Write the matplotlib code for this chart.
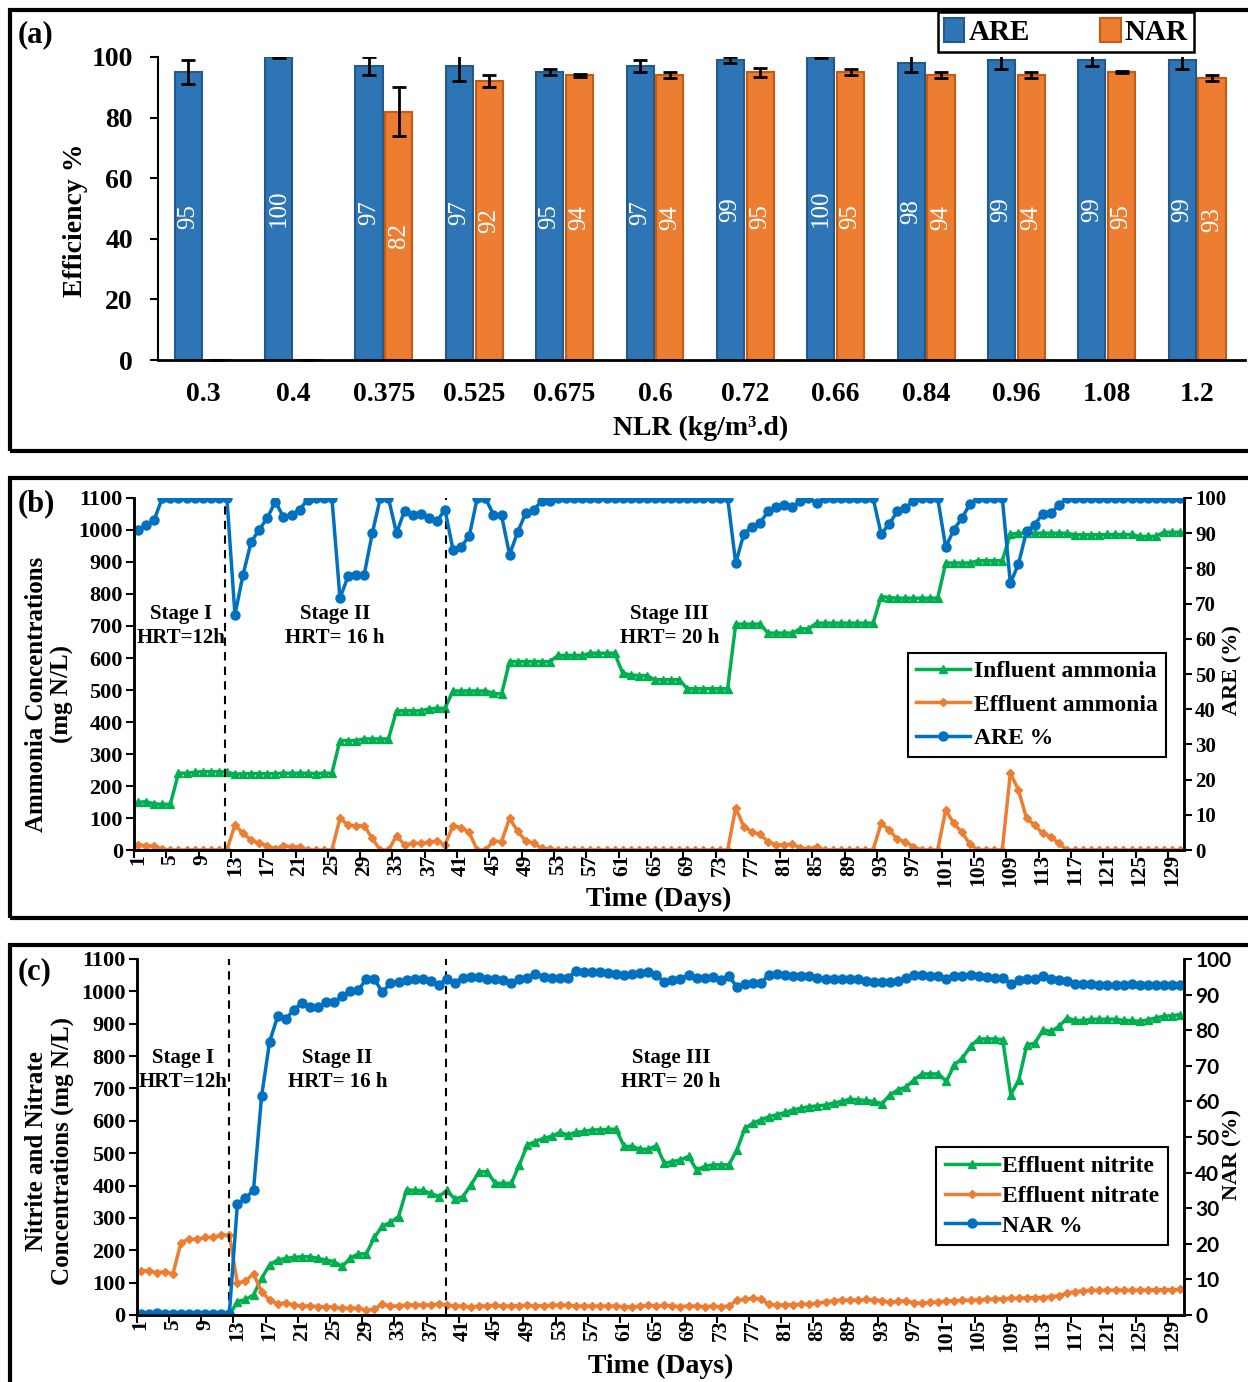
import matplotlib.pyplot as plt
import numpy as np
from matplotlib.lines import Line2D
from matplotlib.patches import Patch, Rectangle

plt.rcParams['font.family'] = ['Liberation Serif', 'DejaVu Serif']
plt.rcParams['font.weight'] = 'bold'
plt.rcParams['axes.labelweight'] = 'bold'

# ---------------- data: panel (a) ----------------
nlr_labels = ['0.3', '0.4', '0.375', '0.525', '0.675', '0.6', '0.72', '0.66', '0.84', '0.96', '1.08', '1.2']
are_eff = [95, 100, 97, 97, 95, 97, 99, 100, 98, 99, 99, 99]
are_err = [4, 0.3, 3, 5, 1, 2, 1, 0.3, 3, 3, 2, 3]
nar_eff = [0, 0, 82, 92, 94, 94, 95, 95, 94, 94, 95, 93]
nar_err = [0, 0, 8, 2, 0.5, 1, 1.5, 1, 1, 1, 0.3, 1]

# ---------------- data: panel (b) ----------------
influent_nh4 = [
    149, 151, 144, 143, 143, 240, 240, 243, 245, 245,
    245, 243, 237, 238, 239, 239, 238, 239, 240, 240,
    240, 240, 239, 240, 240, 342, 342, 342, 347, 347,
    347, 347, 435, 435, 435, 435, 441, 443, 443, 497,
    497, 497, 497, 497, 490, 487, 589, 589, 589, 589,
    589, 589, 608, 608, 608, 608, 615, 615, 615, 615,
    553, 547, 545, 545, 532, 532, 532, 532, 504, 504,
    504, 504, 504, 504, 706, 706, 706, 706, 678, 678,
    678, 678, 691, 691, 709, 709, 709, 709, 709, 709,
    709, 709, 792, 789, 787, 787, 787, 787, 787, 787,
    897, 897, 897, 897, 904, 904, 904, 904, 987, 990,
    990, 990, 990, 990, 990, 990, 985, 985, 985, 985,
    986, 986, 986, 986, 980, 980, 980, 993, 993, 993,
]
effluent_nh4 = [
    16, 14, 12, 3, 0, 0, 0, 0, 0, 0,
    0, 0, 78, 52, 31, 21, 14, 3, 14, 10,
    10, 0, 0, 0, 0, 99, 78, 76, 76, 36,
    0, 0, 44, 16, 21, 21, 24, 28, 16, 76,
    70, 55, 0, 0, 28, 26, 99, 59, 28, 21,
    5, 3, 0, 0, 0, 0, 0, 0, 0, 0,
    0, 0, 0, 0, 0, 0, 0, 0, 0, 0,
    0, 0, 0, 0, 132, 73, 57, 49, 26, 16,
    16, 18, 7, 3, 10, 0, 0, 0, 0, 0,
    0, 0, 83, 63, 33, 26, 10, 0, 0, 0,
    125, 83, 55, 18, 0, 0, 0, 0, 240, 188,
    99, 78, 52, 42, 21, 0, 0, 0, 0, 0,
    0, 0, 0, 0, 0, 0, 0, 0, 0, 0,
]
are_pct = [
    91.0, 92.4, 93.8, 100, 100, 100, 100, 100, 100, 100,
    100, 100, 66.8, 78.2, 87.5, 91.0, 94.3, 99.0, 94.6, 95.1,
    96.7, 99.5, 100, 100, 100, 71.6, 77.7, 78.2, 78.2, 90.0,
    100, 100, 90.0, 96.4, 95.1, 95.4, 94.4, 93.4, 96.7, 85.3,
    86.2, 89.1, 100, 100, 95.3, 95.1, 83.9, 90.3, 95.7, 96.7,
    99.2, 99.2, 100, 100, 100, 100, 100, 100, 100, 100,
    100, 100, 100, 100, 100, 100, 100, 100, 100, 100,
    100, 100, 100, 100, 81.5, 89.8, 91.9, 92.9, 96.2, 97.4,
    97.9, 97.4, 99.2, 100, 98.6, 100, 100, 100, 100, 100,
    100, 100, 89.8, 92.6, 96.2, 97.2, 99.2, 100, 100, 100,
    86.0, 91.0, 94.3, 98.3, 100, 100, 100, 100, 75.8, 81.2,
    90.5, 92.4, 95.5, 95.7, 97.9, 100, 100, 100, 100, 100,
    100, 100, 100, 100, 100, 100, 100, 100, 100, 100,
]

# ---------------- data: panel (c) ----------------
nitrite = [
    0, 0, 0, 0, 0, 0, 0, 0, 0, 0,
    0, 0, 41, 48, 62, 113, 155, 170, 175, 178,
    180, 180, 175, 170, 165, 150, 175, 189, 189, 240,
    275, 286, 304, 387, 385, 385, 376, 366, 385, 358,
    366, 402, 443, 443, 407, 407, 407, 464, 526, 536,
    546, 552, 564, 557, 564, 567, 572, 572, 574, 574,
    521, 521, 512, 512, 523, 469, 474, 479, 490, 448,
    459, 464, 464, 464, 510, 577, 593, 603, 613, 619,
    626, 634, 639, 644, 646, 649, 655, 660, 667, 665,
    663, 660, 653, 680, 696, 704, 727, 745, 745, 745,
    722, 773, 794, 830, 853, 853, 853, 851, 680, 727,
    835, 840, 881, 876, 892, 918, 910, 910, 914, 914,
    914, 914, 910, 910, 907, 912, 918, 923, 925, 928,
]
nitrate = [
    137, 137, 131, 134, 127, 224, 234, 234, 240, 240,
    247, 247, 98, 106, 127, 72, 46, 34, 38, 31,
    28, 28, 26, 26, 24, 21, 21, 21, 15, 18,
    34, 28, 28, 31, 31, 31, 31, 34, 31, 28,
    28, 24, 28, 28, 30, 27, 28, 29, 30, 28,
    29, 30, 31, 30, 28, 27, 28, 27, 28, 27,
    26, 25, 27, 30, 28, 30, 28, 26, 28, 27,
    26, 27, 26, 27, 46, 48, 52, 48, 33, 31,
    31, 32, 33, 34, 36, 41, 44, 46, 46, 46,
    48, 47, 44, 39, 42, 44, 38, 36, 39, 41,
    43, 44, 45, 46, 47, 48, 49, 50, 52, 52,
    53, 54, 54, 56, 60, 67, 72, 75, 76, 76,
    77, 77, 77, 76, 77, 77, 78, 78, 78, 79,
]
nar_pct = [
    0.4, 0.4, 0.5, 0.4, 0.4, 0.4, 0.4, 0.4, 0.4, 0.4,
    0.4, 0.4, 31.2, 32.8, 35.1, 61.4, 76.8, 83.9, 83.1, 85.8,
    87.6, 86.5, 86.5, 87.8, 87.8, 89.7, 90.9, 91.2, 94.4, 94.4,
    90.6, 93.3, 93.5, 94.0, 94.4, 94.4, 93.8, 92.8, 94.4, 93.3,
    94.7, 95.0, 95.0, 94.3, 94.3, 94.0, 93.3, 94.3, 94.7, 95.9,
    95.0, 94.7, 94.7, 94.7, 96.5, 96.3, 96.3, 96.3, 96.1, 95.9,
    95.6, 95.9, 96.1, 96.3, 95.6, 93.4, 94.0, 94.4, 95.6, 94.7,
    94.7, 95.0, 94.2, 95.3, 92.1, 93.1, 93.3, 93.3, 95.6, 95.9,
    95.6, 95.3, 95.3, 95.1, 94.7, 94.4, 94.4, 94.4, 94.4, 94.4,
    93.8, 93.5, 93.5, 93.5, 93.8, 94.7, 95.6, 95.6, 95.3, 95.3,
    94.4, 95.3, 95.3, 95.6, 95.1, 95.0, 94.7, 94.7, 93.1, 94.0,
    94.4, 94.4, 95.1, 94.4, 94.0, 93.8, 93.1, 93.1, 93.1, 92.8,
    92.8, 92.8, 92.8, 93.1, 92.8, 92.8, 92.8, 92.8, 92.8, 92.8,
]

stage_texts = ['Stage I\nHRT=12h', 'Stage II\nHRT= 16 h', 'Stage III\nHRT= 20 h']

BAR_BLUE, BAR_BLUE_EDGE = '#2E75B6', '#25598A'
BAR_ORANGE, BAR_ORANGE_EDGE = '#ED7D31', '#C55A11'
GREEN, ORANGE, BLUE = '#00B050', '#ED7D31', '#0070C0'

W, H = 1248, 1382
fig = plt.figure(figsize=(W / 100, H / 100), dpi=100)


def fig_box(x0, y0, x1, y1):
    # pixel box (top-left origin) -> figure fraction [l, b, w, h]
    return [x0 / W, 1 - y1 / H, (x1 - x0) / W, (y1 - y0) / H]


# panel frames
for top, bot in [(10, 451), (478, 918), (945, 1390)]:
    fig.add_artist(Rectangle((10 / W, 1 - bot / H), 1.2, (bot - top) / H,
                             transform=fig.transFigure, fill=False, lw=3, ec='black'))

# ---------------- panel (a) ----------------
ax = fig.add_axes(fig_box(158, 57, 1245, 360))
x = np.arange(len(nlr_labels))
bw, off = 0.30, 0.165
ax.bar(x - off, are_eff, bw, color=BAR_BLUE, edgecolor=BAR_BLUE_EDGE, lw=1.5, zorder=2)
ax.bar(x + off, nar_eff, bw, color=BAR_ORANGE, edgecolor=BAR_ORANGE_EDGE, lw=1.5, zorder=2)
ax.errorbar(x - off, are_eff, yerr=are_err, fmt='none', ecolor='black', elinewidth=2,
            capsize=5, capthick=2, zorder=3)
ax.errorbar(x + off, nar_eff, yerr=nar_err, fmt='none', ecolor='black',
            elinewidth=2, capsize=5, capthick=2, zorder=3, clip_on=False)
for xi, v in zip(x, are_eff):
    ax.text(xi - off, v / 2, str(v), rotation=90, ha='center', va='center', color='white',
            fontsize=18, fontweight='normal', zorder=4)
for xi, v in zip(x, nar_eff):
    if v > 0:
        ax.text(xi + off, v / 2, str(v), rotation=90, ha='center', va='center', color='white',
                fontsize=18, fontweight='normal', zorder=4)
ax.set_xlim(-0.5, 11.53)
ax.set_ylim(0, 100)
ax.set_yticks([0, 20, 40, 60, 80, 100])
ax.set_xticks(x)
ax.set_xticklabels(nlr_labels)
ax.tick_params(axis='y', labelsize=20, length=6, width=1.5, pad=12)
ax.tick_params(axis='x', labelsize=20, length=0, pad=16)
for s in ['top', 'right']:
    ax.spines[s].set_visible(False)
ax.spines['left'].set_linewidth(1.5)
ax.spines['bottom'].set_linewidth(2)
ax.set_ylabel('Efficiency %', fontsize=20)
ax.yaxis.set_label_coords(-0.064, 0.46)
ax.set_xlabel('NLR (kg/m³.d)', fontsize=20)
ax.xaxis.set_label_coords(0.499, -0.185)
fig.legend(handles=[Patch(facecolor=BAR_BLUE, edgecolor=BAR_BLUE_EDGE, lw=1.5, label='ARE'),
                    Patch(facecolor=BAR_ORANGE, edgecolor=BAR_ORANGE_EDGE, lw=1.5, label='NAR')],
           loc='center', bbox_to_anchor=(1066 / W, 1 - 32 / H), ncol=2, fontsize=21,
           frameon=True, fancybox=False, edgecolor='black', framealpha=1,
           handlelength=0.7, handleheight=0.9, handletextpad=0.15, columnspacing=2.4,
           borderpad=0.2, borderaxespad=0).get_frame().set_linewidth(1.8)
fig.text(18 / W, 1 - 35 / H, '(a)', fontsize=22, va='center', ha='left')

days = np.arange(1, 131)


def time_axes(ax, ax2, right_font):
    ax.set_xlim(0.5, 130.5)
    ax.set_ylim(0, 1100)
    ax.set_yticks(np.arange(0, 1101, 100))
    ax2.set_ylim(0, 100)
    ax2.set_yticks(np.arange(0, 101, 10))
    ax.set_xticks(np.arange(1, 131, 4))
    ax.set_xticks(np.arange(0.5, 130, 4), minor=True)
    ax.tick_params(axis='x', which='major', length=0, labelsize=15.5, labelrotation=90, pad=3)
    ax.tick_params(axis='x', which='minor', length=6, width=1.5)
    ax.tick_params(axis='y', labelsize=16, length=6, width=1.5, pad=2)
    ax2.tick_params(axis='y', labelsize=15, length=6, width=1.5, pad=2)
    if right_font:
        for t in ax2.get_yticklabels():
            t.set_fontfamily(right_font)
    for a in (ax, ax2):
        a.spines['top'].set_visible(False)
        for s in ['left', 'right', 'bottom']:
            a.spines[s].set_linewidth(1.8)
    ax.set_xlabel('Time (Days)', fontsize=20)
    ax.xaxis.set_label_coords(0.5, -0.105)


# ---------------- panel (b) ----------------
axb = fig.add_axes(fig_box(134, 498, 1184, 850))
axb2 = axb.twinx()
l1, = axb.plot(days, influent_nh4, color=GREEN, lw=2.5, marker='^', ms=6, label='Influent ammonia')
l2, = axb.plot(days, effluent_nh4, color=ORANGE, lw=2.5, marker='D', ms=4.5, label='Effluent ammonia')
l3, = axb2.plot(days, are_pct, color=BLUE, lw=2.5, marker='o', ms=6.5, label='ARE %')
for xv in (11.8, 39.1):
    axb.axvline(xv, color='black', ls='--', lw=1.5, dashes=(4, 3))
for xt, s in zip([6.3, 25.4, 66.8], stage_texts):
    axb.text(xt, 700, s, ha='center', va='center', fontsize=15, linespacing=1.25)
time_axes(axb, axb2, None)
axb.set_ylabel('Ammonia Concentrations\n(mg N/L)', fontsize=18, linespacing=1.15)
axb.yaxis.set_label_coords(-0.057, 0.443)
axb2.set_ylabel('ARE (%)', fontsize=16)
axb2.yaxis.set_label_coords(1.037, 0.51)
lg = axb.legend(handles=[l1, l2, l3], loc='center', bbox_to_anchor=(0.860, 0.412), fontsize=17,
                frameon=True, fancybox=False, edgecolor='black', framealpha=1,
                handlelength=2.3, handletextpad=0.15, labelspacing=0.5, borderpad=0.35)
lg.get_frame().set_linewidth(1.5)
fig.text(18 / W, 1 - 504 / H, '(b)', fontsize=22, va='center', ha='left')

# ---------------- panel (c) ----------------
axc = fig.add_axes(fig_box(136.7, 959, 1184, 1315))
axc2 = axc.twinx()
m1, = axc.plot(days, nitrite, color=GREEN, lw=2.5, marker='^', ms=6, label='Effluent nitrite')
m2, = axc.plot(days, nitrate, color=ORANGE, lw=2.5, marker='D', ms=4.5, label='Effluent nitrate')
m3, = axc2.plot(days, nar_pct, color=BLUE, lw=2.5, marker='o', ms=6.5, label='NAR %')
for xv in (11.95, 38.9):
    axc.axvline(xv, color='black', ls='--', lw=1.5, dashes=(4, 3))
for xt, s in zip([6.2, 25.4, 66.8], stage_texts):
    axc.text(xt, 757, s, ha='center', va='center', fontsize=15, linespacing=1.25)
time_axes(axc, axc2, 'Lato')
axc.set_ylabel('Nitrite and Nitrate\nConcentrations (mg N/L)', fontsize=18, linespacing=1.15)
axc.yaxis.set_label_coords(-0.06, 0.46)
axc2.set_ylabel('NAR (%)', fontsize=16)
axc2.yaxis.set_label_coords(1.037, 0.45)
axc.xaxis.set_label_coords(0.5, -0.11)
lg = axc.legend(handles=[m1, m2, m3], loc='center', bbox_to_anchor=(0.874, 0.334), fontsize=17,
                frameon=True, fancybox=False, edgecolor='black', framealpha=1,
                handlelength=2.3, handletextpad=0.15, labelspacing=0.35, borderpad=0.35)
lg.get_frame().set_linewidth(1.5)
fig.text(18 / W, 1 - 972 / H, '(c)', fontsize=22, va='center', ha='left')

fig.savefig('out.png', dpi=100)
